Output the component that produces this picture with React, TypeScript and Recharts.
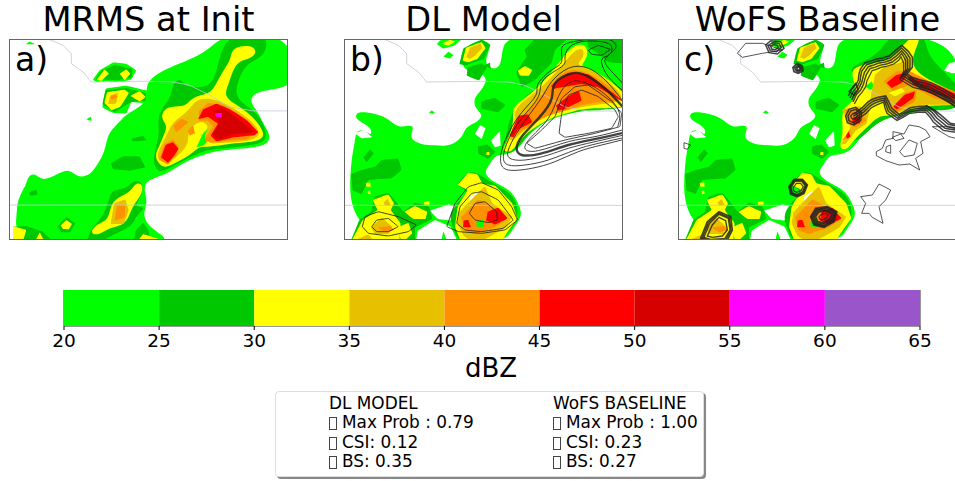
import React from 'react';
import { Bar, BarChart, ReferenceArea, Scatter, ScatterChart, XAxis, YAxis } from 'recharts';

// dBZ classes of the colour bar
const levels = [20, 25, 30, 35, 40, 45, 50, 55, 60];
const levelColors = ['#00ff00', '#00c800', '#ffff00', '#e7c000', '#ff9000', '#ff0000', '#d60000', '#ff00ff', '#9955c9'];
const barTicks = [20, 25, 30, 35, 40, 45, 50, 55, 60, 65];

type Patch = [number, number[]]; // dBZ level (0 = clear air), x,y,x,y...
type Contour = [number[], boolean, number?]; // x,y..., closed, weight

const frameA = { x: [28, 865], y: [116, 720] };
const frameB = { x: [27, 864], y: [27, 630] };

const mrmsPatches: Patch[] = [
  [20, [680, 100, 880, 100, 880, 235, 860, 262, 800, 270, 760, 280, 750, 305, 775, 335, 790, 370, 815, 408, 800, 435, 760, 442, 700, 447, 650, 452, 610, 464, 560, 482, 510, 517, 470, 532, 440, 542, 432, 570, 445, 605, 430, 640, 440, 670, 470, 695, 505, 716, 470, 740, 40, 740, 52, 640, 52, 610, 66, 575, 78, 558, 85, 528, 105, 518, 130, 545, 175, 520, 210, 506, 230, 530, 265, 530, 290, 500, 318, 450, 323, 400, 360, 365, 380, 340, 440, 312, 440, 270, 445, 240, 490, 210, 540, 190, 600, 165, 640, 135]],
  [20, [280, 238, 300, 210, 340, 186, 380, 190, 410, 210, 395, 238, 355, 246, 320, 242, 290, 246]],
  [20, [312, 295, 318, 265, 380, 256, 445, 272, 445, 310, 395, 305, 380, 340, 340, 338, 308, 322]],
  [20, [260, 358, 273, 349, 277, 362]],
  [20, [78, 132, 90, 124, 108, 132]],
  [0, [400, 648, 408, 642, 410, 655, 402, 658]],
  [25, [685, 100, 805, 100, 800, 150, 780, 175, 740, 190, 715, 240, 705, 290, 745, 320, 778, 345, 802, 395, 797, 428, 740, 437, 650, 447, 610, 452, 570, 472, 520, 497, 480, 522, 458, 490, 468, 440, 480, 400, 473, 350, 490, 320, 515, 290, 518, 250, 545, 232, 555, 260, 590, 260, 630, 260, 650, 215, 660, 170]],
  [25, [288, 237, 305, 212, 345, 194, 398, 205, 396, 232, 355, 240, 310, 238]],
  [25, [308, 312, 318, 270, 380, 263, 438, 278, 438, 302, 395, 305, 345, 336]],
  [25, [395, 416, 430, 407, 442, 420, 400, 424]],
  [25, [333, 490, 370, 468, 420, 468, 437, 502, 390, 512, 340, 507]],
  [25, [88, 577, 110, 568, 114, 583, 92, 587]],
  [25, [268, 702, 280, 680, 310, 650, 328, 600, 335, 568, 380, 568, 400, 538, 432, 545, 427, 590, 400, 622, 442, 620, 412, 642, 397, 682, 340, 702, 300, 730, 260, 730]],
  [25, [40, 680, 80, 678, 130, 695, 170, 735, 40, 735]],
  [25, [173, 680, 200, 650, 227, 670, 212, 697, 185, 697]],
  [25, [408, 692, 430, 668, 447, 690, 452, 730, 402, 730]],
  [30, [695, 150, 720, 136, 762, 136, 772, 160, 745, 178, 717, 182, 697, 215, 688, 250, 672, 285, 702, 310, 752, 340, 792, 390, 792, 417, 750, 427, 690, 430, 625, 442, 600, 437, 570, 467, 520, 492, 490, 507, 462, 470, 478, 440, 495, 400, 503, 375, 483, 355, 493, 323, 530, 318, 560, 318, 578, 288, 630, 283, 650, 250, 668, 215, 693, 180]],
  [20, [590, 442, 610, 400, 637, 370, 628, 420, 610, 437]],
  [20, [530, 420, 545, 403, 562, 420, 545, 434]],
  [30, [291, 238, 315, 208, 328, 220, 305, 242]],
  [30, [360, 220, 380, 207, 392, 220, 375, 240]],
  [30, [314, 308, 322, 276, 375, 268, 388, 278, 362, 320, 335, 330]],
  [30, [392, 287, 420, 272, 438, 290, 420, 304]],
  [30, [268, 698, 295, 670, 328, 660, 333, 608, 365, 588, 395, 572, 410, 545, 433, 555, 423, 590, 398, 618, 388, 652, 367, 678, 330, 682, 295, 708]],
  [30, [183, 676, 200, 660, 217, 672, 207, 688, 190, 687]],
  [30, [40, 678, 80, 690, 68, 730, 40, 730]],
  [30, [103, 730, 120, 697, 138, 730]],
  [30, [410, 730, 430, 702, 475, 716, 470, 730]],
  [35, [625, 432, 610, 410, 632, 375, 600, 358, 560, 395, 572, 430, 520, 482, 490, 492, 468, 470, 488, 430, 508, 390, 520, 365, 550, 345, 575, 320, 590, 298, 630, 293, 680, 310, 750, 355, 788, 400, 760, 422, 680, 427]],
  [35, [333, 672, 343, 610, 377, 598, 387, 630, 372, 672]],
  [35, [325, 312, 332, 285, 355, 278, 350, 310]],
  [40, [345, 662, 352, 615, 377, 615, 375, 652]],
  [40, [330, 292, 345, 282, 355, 290, 340, 298]],
  [40, [520, 377, 545, 356, 567, 365, 530, 397]],
  [40, [564, 392, 580, 375, 586, 400, 570, 406]],
  [40, [478, 478, 493, 432, 520, 418, 538, 440, 532, 462, 505, 494]],
  [40, [598, 362, 598, 333, 625, 308, 670, 313, 722, 345, 774, 395, 742, 417, 680, 422, 635, 427, 613, 420, 640, 380, 625, 362]],
  [45, [595, 357, 610, 328, 650, 310, 692, 328, 742, 360, 776, 396, 765, 405, 700, 412, 650, 424, 633, 406, 655, 370, 625, 350]],
  [45, [484, 472, 498, 434, 520, 426, 537, 446, 522, 468, 505, 488]],
  [50, [640, 337, 665, 323, 702, 345, 764, 396, 700, 402, 660, 418, 638, 406, 660, 366]],
  [55, [646, 339, 666, 338, 667, 351, 648, 349]],
];

// reflectivity shared by panels b and c
const truthPatches: Patch[] = [
  [20, [62, 250, 80, 245, 120, 250, 160, 265, 190, 295, 220, 285, 240, 290, 220, 325, 260, 345, 300, 345, 345, 350, 385, 320, 390, 290, 430, 275, 445, 255, 420, 235, 415, 205, 440, 180, 460, 145, 430, 125, 395, 130, 370, 80, 400, 40, 455, 28, 470, 50, 445, 95, 470, 120, 500, 110, 500, 50, 530, 10, 880, 10, 880, 240, 770, 240, 700, 250, 640, 270, 610, 290, 575, 320, 545, 365, 505, 375, 480, 375, 460, 410, 445, 430, 480, 460, 530, 480, 555, 530, 562, 560, 530, 600, 505, 650, 40, 650, 45, 400, 60, 340, 62, 300, 90, 300, 110, 320, 110, 290, 62, 270]],
  [20, [305, 42, 320, 28, 380, 28, 360, 46, 325, 56]],
  [20, [325, 80, 340, 65, 356, 75, 345, 86]],
  [20, [282, 248, 290, 241, 300, 248, 292, 252]],
  [0, [420, 312, 435, 285, 452, 295, 440, 327]],
  [0, [468, 332, 495, 303, 497, 347, 480, 352]],
  [0, [285, 542, 340, 523, 367, 530, 347, 572, 308, 567]],
  [0, [240, 650, 248, 602, 300, 570, 347, 590, 375, 650]],
  [0, [60, 310, 88, 300, 112, 322, 80, 325]],
  [20, [316, 650, 325, 603, 342, 650]],
  [25, [48, 432, 80, 420, 120, 410, 140, 390, 190, 385, 200, 420, 170, 445, 100, 450, 80, 492, 53, 482]],
  [25, [85, 382, 105, 358, 117, 370, 95, 397]],
  [25, [428, 350, 455, 343, 482, 365, 460, 387, 430, 372]],
  [25, [438, 215, 480, 203, 512, 225, 490, 247, 440, 237]],
  [25, [398, 112, 440, 100, 457, 110, 432, 152, 395, 137]],
  [25, [448, 106, 465, 98, 467, 116]],
  [25, [358, 470, 390, 433, 415, 423, 440, 438, 482, 465, 532, 490, 552, 540, 542, 582, 512, 617, 480, 650, 375, 650, 353, 590, 343, 560, 358, 525, 408, 480]],
  [25, [118, 500, 160, 488, 187, 520, 205, 545, 240, 518, 282, 530, 292, 567, 240, 592, 240, 650, 40, 650, 73, 570, 108, 545]],
  [25, [373, 102, 385, 55, 440, 28, 467, 45, 447, 87, 390, 107]],
  [30, [113, 510, 160, 493, 177, 520, 167, 540, 197, 580, 192, 650, 40, 650, 83, 570, 128, 540]],
  [30, [208, 545, 240, 528, 277, 545, 272, 567, 235, 567]],
  [30, [188, 592, 220, 578, 232, 610, 200, 640]],
  [30, [368, 465, 400, 428, 427, 433, 442, 460, 482, 468, 532, 520, 547, 565, 517, 607, 490, 650, 383, 650, 360, 590, 368, 530, 398, 480]],
  [30, [92, 459, 106, 457, 107, 470, 94, 470]],
  [30, [98, 483, 105, 481, 107, 492, 99, 492]],
  [30, [267, 516, 283, 513, 284, 524, 268, 524]],
  [30, [454, 367, 463, 366, 463, 375, 454, 375]],
  [30, [383, 92, 393, 53, 440, 36, 452, 55, 427, 87, 400, 97]],
  [30, [320, 41, 345, 30, 362, 34, 340, 47]],
  [0, [403, 502, 430, 483, 442, 510, 410, 522]],
  [35, [373, 547, 400, 518, 450, 468, 472, 520, 532, 560, 512, 592, 470, 617, 420, 640, 385, 617, 368, 580]],
  [35, [393, 82, 405, 53, 437, 40, 442, 55, 420, 77, 405, 87]],
  [35, [146, 518, 158, 507, 167, 526, 150, 527]],
  [35, [108, 592, 140, 563, 172, 590, 162, 612, 120, 612]],
  [35, [40, 640, 100, 613, 135, 650]],
  [40, [378, 562, 400, 538, 430, 508, 472, 530, 512, 570, 480, 592, 420, 612, 390, 602]],
  [40, [128, 592, 165, 588, 178, 600, 150, 607]],
  [45, [386, 572, 400, 570, 408, 592, 384, 592]],
  [45, [458, 545, 490, 533, 518, 565, 480, 584, 453, 572]],
  [20, [424, 576, 445, 568, 447, 592, 425, 590]],
];

const dlPatches: Patch[] = [
  [25, [543, 127, 575, 80, 568, 60, 610, 15, 710, 15, 660, 60, 650, 100, 600, 150, 560, 172]],
  [25, [758, 10, 880, 10, 880, 102, 820, 97, 788, 70, 758, 50]],
  [25, [508, 352, 523, 250, 580, 188, 620, 168, 700, 108, 760, 118, 820, 148, 880, 190, 880, 240, 770, 235, 700, 250, 640, 265, 610, 285, 570, 322, 540, 367, 510, 372]],
  [30, [548, 122, 570, 108, 592, 120, 582, 137, 555, 137]],
  [30, [503, 357, 523, 320, 538, 270, 528, 230, 590, 193, 640, 138, 680, 88, 710, 48, 752, 38, 762, 80, 732, 110, 762, 113, 822, 148, 880, 200, 880, 237, 770, 232, 710, 245, 650, 262, 610, 285, 570, 312, 540, 352, 525, 367, 508, 364]],
  [35, [518, 332, 545, 285, 533, 240, 580, 203, 630, 163, 680, 108, 720, 58, 747, 53, 747, 87, 717, 105, 782, 123, 832, 163, 880, 215, 790, 222, 710, 237, 650, 252, 600, 277, 560, 307, 535, 332]],
  [40, [523, 327, 550, 268, 580, 243, 620, 193, 660, 148, 700, 113, 762, 128, 822, 168, 880, 218, 770, 212, 680, 247, 630, 257, 590, 287, 550, 307]],
  [45, [523, 318, 550, 258, 580, 253, 592, 277, 550, 297, 535, 322]],
  [45, [648, 167, 700, 128, 762, 133, 880, 225, 790, 172, 740, 162, 680, 172, 655, 177]],
  [45, [663, 227, 700, 198, 732, 183, 740, 212, 690, 237, 670, 242]],
];

const wofsPatches: Patch[] = [
  [0, [825, 122, 840, 100, 880, 90, 880, 128, 850, 130]],
  [25, [518, 252, 560, 200, 553, 180, 590, 140, 543, 132, 548, 108, 600, 88, 640, 58, 660, 15, 760, 15, 772, 40, 782, 90, 880, 170, 880, 240, 800, 240, 700, 250, 640, 268, 600, 300, 550, 350, 520, 300]],
  [30, [508, 354, 523, 314, 518, 264, 523, 234, 553, 214, 558, 194, 563, 174, 543, 124, 568, 109, 603, 99, 653, 94, 698, 54, 728, 15, 760, 15, 733, 69, 728, 114, 783, 154, 880, 194, 880, 229, 783, 224, 723, 239, 673, 259, 633, 254, 603, 284, 558, 324, 533, 364]],
  [20, [588, 169, 608, 154, 618, 174, 603, 179]],
  [35, [603, 214, 618, 134, 648, 109, 693, 99, 718, 74, 723, 124, 773, 159, 880, 199, 880, 224, 753, 224, 673, 254, 643, 214]],
  [35, [518, 342, 545, 290, 518, 240, 570, 228, 602, 240, 592, 282, 560, 302, 530, 342]],
  [40, [643, 154, 683, 124, 723, 124, 783, 154, 880, 194, 880, 224, 793, 204, 723, 164, 673, 184]],
  [40, [668, 234, 708, 189, 743, 179, 738, 214, 678, 249]],
  [40, [538, 282, 528, 238, 570, 238, 592, 272, 560, 292]],
  [40, [518, 332, 545, 298, 542, 322]],
  [30, [658, 189, 698, 174, 708, 184, 678, 199]],
  [45, [653, 159, 683, 134, 718, 129, 698, 159, 668, 174]],
  [45, [673, 229, 708, 194, 738, 184, 733, 204, 683, 239]],
  [45, [718, 139, 783, 159, 880, 199, 880, 214, 803, 194, 733, 164]],
  [45, [548, 264, 573, 259, 573, 279, 553, 284]],
  [45, [531, 319, 538, 304, 545, 319, 535, 326]],
];

const dlContours: Contour[] = [
  [[880, 325, 800, 345, 730, 365, 660, 395, 590, 415, 520, 420, 497, 395, 505, 345, 540, 275, 580, 225, 605, 190, 610, 160, 650, 120, 680, 95, 680, 55, 715, 35, 790, 26, 835, 35, 838, 60, 810, 90, 835, 130, 880, 178], false],
  [[880, 320, 790, 340, 720, 360, 640, 390, 570, 405, 520, 405, 505, 380, 520, 330, 560, 265, 610, 200, 625, 150, 680, 110, 690, 85, 700, 55, 740, 35, 800, 35, 830, 50, 822, 75, 800, 90, 820, 140, 880, 195], false],
  [[880, 312, 780, 335, 700, 355, 640, 375, 570, 390, 525, 385, 520, 360, 545, 310, 590, 245, 625, 195, 650, 155, 700, 115, 760, 115, 820, 160, 880, 235], false],
  [[880, 305, 790, 325, 700, 345, 620, 370, 560, 375, 545, 355, 560, 320, 615, 260, 650, 205, 660, 160, 710, 130, 760, 140, 820, 185, 880, 250], false, 2.4],
  [[880, 295, 780, 320, 700, 335, 610, 362, 570, 355, 590, 320, 640, 265, 670, 200, 700, 160, 740, 155, 800, 185, 850, 240, 848, 290], false],
  [[672, 310, 680, 250, 700, 195, 740, 180, 790, 200, 840, 240, 850, 260, 830, 295, 760, 310, 690, 322], true],
  [[575, 340, 620, 300, 660, 260, 680, 205, 720, 170, 760, 165, 830, 215, 860, 250, 855, 290, 780, 310, 690, 330, 600, 355], true],
  [[760, 60, 790, 46, 827, 58, 800, 76, 770, 73], true],
  [[335, 590, 360, 520, 400, 470, 440, 458, 490, 480, 530, 530, 548, 570, 510, 600, 440, 610, 370, 605], true],
  [[365, 580, 375, 530, 410, 490, 440, 485, 490, 510, 535, 570, 505, 595, 440, 605, 390, 600], true],
  [[403, 550, 420, 520, 450, 515, 485, 545, 487, 570, 460, 578, 420, 570], true],
  [[82, 590, 90, 560, 130, 545, 190, 560, 245, 585, 220, 605, 160, 618, 100, 610], true],
  [[110, 590, 125, 570, 160, 565, 190, 590, 160, 605, 125, 605], true],
];

const wofsContours: Contour[] = [
  // upper edge of the main band
  [[543, 204, 553, 184, 566, 168, 573, 154, 575, 138, 578, 124, 593, 104, 608, 100, 623, 94, 645, 90, 663, 84, 680, 70, 698, 54, 713, 69, 723, 84, 723, 114, 708, 134, 725, 146, 743, 154, 783, 164, 823, 184, 880, 220], false, 1.5],
  [[548, 210, 558, 188, 570, 174, 578, 158, 582, 142, 586, 128, 598, 110, 612, 106, 627, 100, 648, 96, 666, 90, 684, 76, 698, 62, 708, 74, 716, 88, 716, 116, 702, 138, 722, 150, 740, 160, 780, 170, 820, 190, 880, 227], false, 1.5],
  [[538, 198, 548, 178, 562, 162, 568, 150, 570, 132, 574, 118, 588, 98, 604, 94, 620, 88, 640, 84, 660, 78, 676, 64, 698, 46, 718, 64, 730, 82, 730, 112, 714, 132, 730, 142, 748, 148, 786, 158, 826, 178, 880, 213], false, 1.5],
  [[552, 216, 562, 194, 575, 180, 583, 164, 588, 146, 592, 134, 603, 116, 617, 112, 632, 106, 652, 102, 670, 96, 688, 82, 698, 70, 704, 80, 710, 92, 710, 120, 696, 142, 716, 154, 736, 166, 776, 176, 816, 196, 880, 234], false, 1.4],
  [[556, 222, 568, 200, 580, 186, 590, 170, 594, 152, 600, 140, 609, 122, 622, 118, 636, 112, 656, 108, 674, 102, 690, 90, 696, 80, 700, 90, 704, 100, 704, 124, 692, 148, 712, 160, 732, 172, 772, 182, 812, 202, 880, 241], false, 1.2],
  [[722, 140, 760, 170, 800, 185, 840, 205, 880, 238], false, 1.8],
  [[718, 146, 756, 176, 796, 192, 836, 212, 880, 245], false, 1.8],
  // lower edge of the main band
  [[553, 259, 583, 239, 600, 222, 613, 214, 630, 208, 648, 204, 656, 222, 663, 239, 688, 259, 705, 250, 723, 239, 750, 235, 773, 234, 790, 248, 803, 264, 833, 289, 880, 298], false, 1.6],
  [[553, 253, 580, 233, 597, 216, 610, 208, 628, 202, 650, 198, 660, 216, 668, 234, 690, 253, 706, 244, 724, 233, 752, 229, 775, 228, 794, 242, 808, 258, 838, 283, 880, 292], false, 1.6],
  [[556, 265, 586, 245, 603, 228, 616, 220, 632, 214, 646, 210, 652, 228, 658, 244, 686, 265, 704, 256, 722, 245, 748, 241, 771, 240, 786, 254, 798, 270, 828, 295, 880, 304], false, 1.6],
  [[560, 271, 590, 251, 606, 234, 620, 226, 634, 220, 644, 216, 648, 234, 654, 250, 684, 271, 702, 262, 720, 251, 746, 247, 769, 246, 782, 260, 793, 276, 823, 301, 880, 310], false, 1.4],
  [[770, 226, 796, 240, 814, 254, 844, 280, 880, 286], false, 1.6],
  [[540, 185, 560, 160, 568, 178, 556, 196], true, 1.5],
  [[530, 258, 540, 238, 560, 232, 578, 248, 575, 272, 555, 285, 535, 278], true, 1.5],
  [[537, 258, 545, 243, 560, 238, 572, 250, 570, 268, 553, 278, 540, 272], true, 1.5],
  [[545, 258, 552, 250, 562, 248, 565, 258, 558, 268, 548, 265], true, 1.3],
  [[372, 112, 385, 100, 400, 108, 402, 122, 388, 130, 375, 125], true, 1.8],
  [[378, 113, 387, 106, 396, 111, 396, 120, 387, 125, 380, 120], true, 1.8],
  [[383, 115, 388, 110, 393, 114, 392, 120, 386, 121], true, 1.8],
  [[290, 45, 305, 32, 335, 35, 345, 55, 325, 72, 300, 68], true, 1.5],
  [[297, 47, 310, 38, 330, 40, 337, 53, 322, 65, 304, 62], true, 1.5],
  [[305, 48, 315, 44, 325, 46, 328, 53, 318, 59, 308, 57], true, 1.5],
  [[360, 470, 375, 448, 400, 448, 415, 465, 405, 490, 385, 500, 365, 492], true, 1.8],
  [[363, 471, 377, 451, 399, 451, 412, 466, 402, 488, 385, 497, 368, 490], true, 1.5],
  [[366, 472, 378, 453, 398, 454, 409, 467, 400, 486, 384, 494, 370, 488], true, 1.5],
  [[372, 474, 382, 460, 395, 460, 403, 470, 396, 482, 383, 487, 375, 483], true, 1.2],
  [[425, 560, 440, 535, 475, 530, 503, 545, 495, 575, 465, 592, 435, 585], true, 1.8],
  [[428, 560, 443, 538, 474, 533, 500, 546, 492, 572, 464, 589, 438, 582], true, 1.5],
  [[432, 560, 445, 540, 472, 536, 497, 548, 490, 570, 463, 586, 440, 580], true, 1.5],
  [[436, 560, 448, 543, 471, 540, 492, 550, 486, 568, 463, 582, 443, 577], true, 1.5],
  [[440, 560, 450, 546, 470, 543, 488, 552, 482, 566, 462, 578, 446, 574], true, 1.4],
  [[450, 560, 458, 552, 470, 550, 478, 556, 472, 564, 460, 570, 452, 567], true, 1.2],
  [[95, 625, 115, 575, 150, 545, 185, 560, 190, 600, 175, 630, 120, 635], true, 1.6],
  [[100, 624, 118, 578, 150, 549, 181, 563, 186, 600, 171, 628, 122, 631], true, 1.4],
  [[105, 622, 122, 580, 150, 553, 178, 565, 183, 600, 168, 625, 125, 628], true, 1.4],
  [[115, 618, 130, 585, 150, 562, 170, 572, 175, 600, 160, 618, 130, 622], true, 1.4],
  [[622, 365, 640, 355, 650, 330, 672, 325, 672, 305, 705, 312, 720, 285, 750, 290, 770, 300, 783, 320, 755, 335, 762, 370, 740, 385, 752, 420, 722, 402, 690, 405, 650, 392, 622, 377], true, 0.9],
  [[670, 322, 695, 312, 705, 325, 680, 332], true, 0.9],
  [[692, 365, 720, 330, 745, 340, 735, 375, 705, 380], true, 0.9],
  [[652, 350, 665, 345, 665, 370, 650, 365], true, 0.9],
  [[578, 550, 590, 520, 575, 500, 610, 495, 630, 462, 665, 480, 650, 510, 630, 530, 642, 580, 610, 562, 600, 550], true, 0.9],
  [[45, 338, 65, 345, 55, 358, 45, 355], true, 0.9],
  [[205, 70, 230, 40, 280, 40, 340, 60, 280, 70, 220, 82], true, 0.9],
  [[790, 290, 840, 320, 880, 330, 880, 300, 830, 290], true, 0.9],
];

const borderA = [110, 116, 150, 118, 190, 135, 215, 160, 215, 190, 250, 215, 275, 245, 440, 243, 520, 245, 570, 255, 630, 285, 690, 320, 760, 332, 865, 332];
const latitudeA = [28, 615, 865, 615];
const borderB = [110, 27, 150, 29, 190, 46, 215, 71, 215, 101, 250, 126, 275, 156, 440, 154, 520, 156, 570, 166, 630, 196, 690, 231, 760, 243, 864, 243];
const latitudeB = [27, 526, 864, 526];

const dlHeader = 'DL MODEL';
const wofsHeader = 'WoFS BASELINE';
const dlScores = ['Max Prob : 0.79', 'CSI: 0.12', 'BS: 0.35'];
const wofsScores = ['Max Prob : 1.00', 'CSI: 0.23', 'BS: 0.27'];

const font = '"DejaVu Sans", sans-serif';

// repeat = 2 keeps a basis curve close to the traced vertices
const toPoints = (flat: number[], repeat = 1) => {
  const pts: { x: number; y: number }[] = [];
  for (let i = 0; i < flat.length; i += 2) {
    for (let r = 0; r < repeat; r++) pts.push({ x: flat[i], y: flat[i + 1] });
  }
  return pts;
};
const colorOf = (level: number) => (level === 0 ? '#ffffff' : levelColors[levels.indexOf(level)]);
const NoMark = () => <g />;

interface PanelProps {
  left: number;
  frame: { x: number[]; y: number[] };
  patches: Patch[];
  contours: Contour[];
  geo: number[][];
  title: string;
  tag: string;
  jagged?: boolean;
}

function Panel({ left, frame, patches, contours, geo, title, tag, jagged }: PanelProps) {
  return (
    <>
      <div style={{ position: 'absolute', left: left - 100, width: 479, top: 3, textAlign: 'center', fontFamily: font, fontSize: 33.7, lineHeight: '34px', whiteSpace: 'nowrap' }}>{title}</div>
      <div style={{ position: 'absolute', left, top: 39, filter: 'blur(0.5px)' }}>
        <ScatterChart width={279} height={201} margin={{ top: 0, right: 0, bottom: 0, left: 0 }}>
          <XAxis type="number" dataKey="x" domain={frame.x} allowDataOverflow hide />
          <YAxis type="number" dataKey="y" domain={frame.y} allowDataOverflow reversed hide />
          {patches.map(([level, flat], i) => (
            <Scatter key={`p${i}`} data={toPoints(flat, flat.length >= 28 ? 1 : 2)} shape={NoMark} isAnimationActive={false}
              line={{ fill: colorOf(level), stroke: 'none' }} lineJointType="basisClosed" />
          ))}
          {geo.map((flat, i) => (
            <Scatter key={`g${i}`} data={toPoints(flat)} shape={NoMark} isAnimationActive={false}
              line={{ fill: 'none', stroke: '#c4c6d8', strokeWidth: 0.8 }} lineJointType="linear" />
          ))}
          {contours.map(([flat, closed, weight], i) => (
            <Scatter key={`c${i}`} data={toPoints(flat, closed && !jagged ? 2 : 1)} shape={NoMark} isAnimationActive={false}
              line={{ fill: 'none', stroke: '#222', strokeOpacity: 0.85, strokeWidth: weight ?? 1 }}
              lineJointType={jagged ? (closed ? 'linearClosed' : 'linear') : closed ? 'basisClosed' : 'natural'} />
          ))}
        </ScatterChart>
      </div>
      <div style={{ position: 'absolute', left, top: 39, width: 279, height: 201, boxSizing: 'border-box', border: '1px solid #666' }} />
      <div style={{ position: 'absolute', left: left + 6, top: 40, fontFamily: font, fontSize: 33 }}>{tag}</div>
    </>
  );
}

function ColorBar() {
  const row: Record<string, number> = { base: 20 };
  levels.forEach((l) => { row[`l${l}`] = 5; });
  return (
    <div style={{ position: 'absolute', left: 24, top: 290 }}>
      <BarChart width={936} height={66} data={[row]} layout="vertical" barCategoryGap={0} margin={{ top: 0, right: 40, bottom: 0, left: 40 }}>
        <XAxis type="number" domain={[20, 65]} ticks={barTicks} allowDataOverflow interval={0} height={30}
          tick={{ fill: '#000', fontSize: 18.5, fontFamily: font, dy: 2 }} tickSize={4} tickLine={{ stroke: '#000' }} axisLine={false} />
        <YAxis type="category" hide />
        <Bar dataKey="base" stackId="s" fill="none" isAnimationActive={false} />
        {levels.map((l, i) => (
          <Bar key={l} dataKey={`l${l}`} stackId="s" fill={levelColors[i]} isAnimationActive={false} />
        ))}
        <ReferenceArea x1={20} x2={65} fill="none" stroke="#333" strokeWidth={1} ifOverflow="visible" />
      </BarChart>
    </div>
  );
}

// the missing-glyph box in front of each score is drawn as an empty box
function ScoreColumn({ left, header, lines }: { left: number; header: string; lines: string[] }) {
  return (
    <div style={{ position: 'absolute', left, top: 394, fontFamily: font, fontSize: 16.9, lineHeight: '19.3px', whiteSpace: 'pre' }}>
      <div>{header}</div>
      {lines.map((t) => (
        <div key={t}>
          <span style={{ display: 'inline-block', boxSizing: 'border-box', width: 8, height: 13, border: '1px solid #444', marginRight: 5, verticalAlign: -2 }} />
          {t}
        </div>
      ))}
    </div>
  );
}

export default function App() {
  return (
    <div style={{ position: 'absolute', left: 0, top: 0, width: 955, height: 481, overflow: 'hidden', background: '#fff' }}>
      <Panel left={9} frame={frameA} patches={mrmsPatches} contours={[]} geo={[borderA, latitudeA]} title="MRMS at Init" tag="a)" />
      <Panel left={344} frame={frameB} patches={[...truthPatches, ...dlPatches]} contours={dlContours} geo={[borderB, latitudeB]} title="DL Model" tag="b)" />
      <Panel left={678} frame={frameB} patches={[...truthPatches, ...wofsPatches]} contours={wofsContours} geo={[borderB, latitudeB]} title="WoFS Baseline" tag="c)" jagged />
      <ColorBar />
      <div style={{ position: 'absolute', left: 465, top: 353, fontFamily: font, fontSize: 26 }}>dBZ</div>
      <div style={{ position: 'absolute', left: 275, top: 391, width: 429, height: 86, boxSizing: 'border-box', background: '#fff', border: '1px solid #ddd', borderRadius: 4, boxShadow: '2px 2px 0 #888' }} />
      <ScoreColumn left={329} header={dlHeader} lines={dlScores} />
      <ScoreColumn left={553} header={wofsHeader} lines={wofsScores} />
    </div>
  );
}
